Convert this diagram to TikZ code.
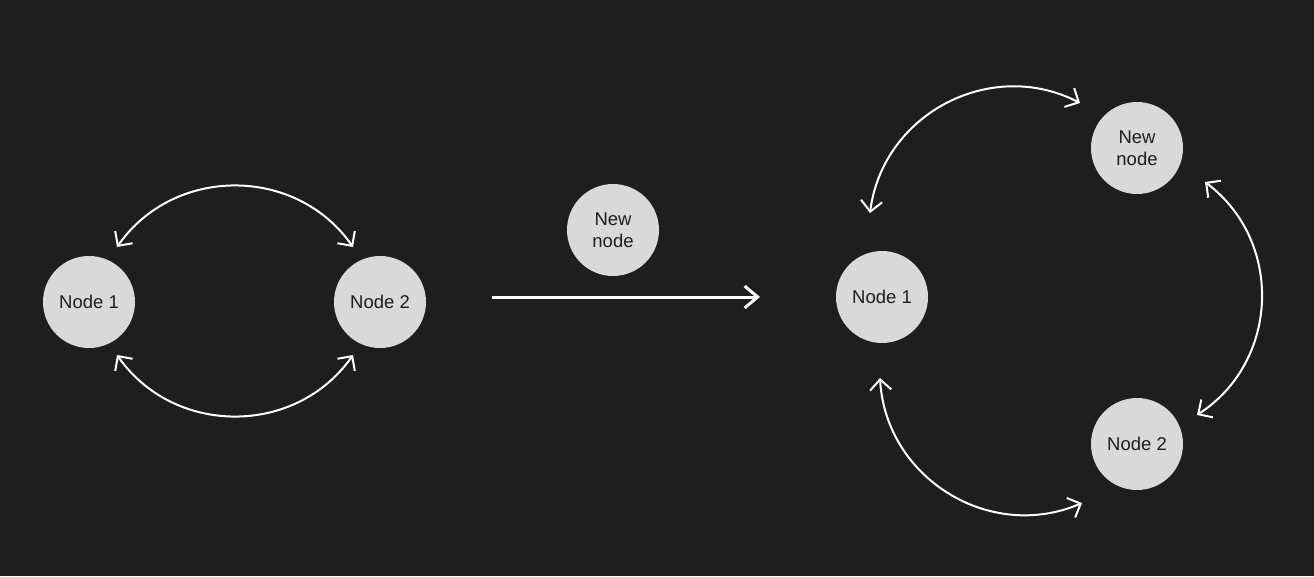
\documentclass[tikz,border=0pt]{standalone}
\usepackage{fontspec}
\setmainfont{Liberation Sans}
\usetikzlibrary{arrows.meta}
\definecolor{bgdark}{HTML}{1E1E1E}
\definecolor{nodefill}{HTML}{D9D9D9}
\tikzset{
x=1pt, y=1pt, % one unit per pixel of the layout
bubble/.style={circle, fill=nodefill, minimum size=92pt, inner sep=0pt, align=center, text=bgdark, font=\fontsize{18.5}{22}\selectfont}, % every node
link/.style={white, line width=2pt, {Straight Barb[angle=90:15pt]}-{Straight Barb[angle=90:15pt]}}, % the curved two-way edges
insert/.style={white, line width=3pt, -{Straight Barb[angle=80:17pt]}}, % the arrow in the middle
}

\begin{document}
\begin{tikzpicture}
    \fill[bgdark] (0,0) rectangle (1314,-576);
    % before
    \node[bubble] (a1) at (89,-302) {Node 1};
    \node[bubble] (a2) at (380,-302) {Node 2};
    \node[bubble] (new) at (613,-230) {New\\node};
    % after
    \node[bubble] (b1) at (882,-297) {Node 1};
    \node[bubble] (bnew) at (1137,-148) {New\\node};
    \node[bubble] (b2) at (1137,-444) {Node 2};
    \coordinate (from) at (492,-297);
    \coordinate (to) at (760,-297);

    \draw[insert] (from) -- (to);
    \draw[link] ([shift={(28,55)}]a1.center) to[bend left=55, looseness=1.08] ([shift={(-27,55)}]a2.center);
    \draw[link] ([shift={(28,-53)}]a1.center) to[bend right=55, looseness=1.08] ([shift={(-27,-53)}]a2.center);
    \draw[link] ([shift={(-12,84)}]b1.center) to[bend left=55, looseness=1.08] ([shift={(-57,45)}]bnew.center);
    \draw[link] ([shift={(68,-34)}]bnew.center) to[bend left=55, looseness=1.08] ([shift={(60,29)}]b2.center);
    \draw[link] ([shift={(-2,-81)}]b1.center) to[bend right=55, looseness=1.08] ([shift={(-55,-59)}]b2.center);
\end{tikzpicture}
\end{document}
